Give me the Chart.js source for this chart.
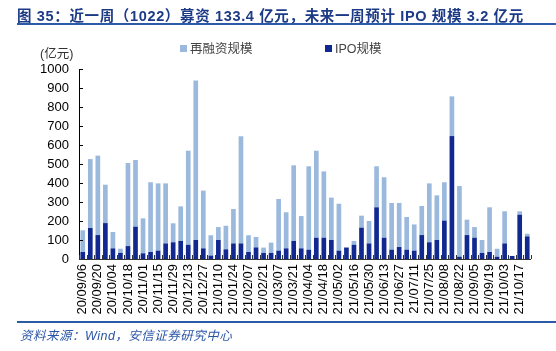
<!DOCTYPE html>
<html><head><meta charset="utf-8">
<script src="https://cdn.jsdelivr.net/npm/chart.js@4/dist/chart.umd.min.js"></script>
<style>
html,body{margin:0;padding:0;background:#fff;width:556px;height:351px;overflow:hidden;font-family:"Liberation Sans","Noto Sans CJK SC",sans-serif;}
#title{position:absolute;left:17px;top:4px;font-size:14.5px;font-weight:bold;color:#1d3a86;white-space:nowrap;letter-spacing:0.65px;}
#tline{position:absolute;left:17px;top:23px;width:539px;height:2px;background:#2a5aa8;}
#unit{position:absolute;left:40px;top:43px;font-size:12.5px;color:#333;}
.leg{position:absolute;top:38px;font-size:12.5px;color:#444;white-space:nowrap;}
.sw{display:inline-block;width:7px;height:7px;margin-right:3px;vertical-align:1px;}
#bline{position:absolute;left:17px;top:321px;width:539px;height:2px;background:#2a5aa8;}
#src{position:absolute;left:20px;top:325px;font-size:12.5px;font-style:italic;color:#2a56a6;white-space:nowrap;letter-spacing:0.5px;}
#wrap{position:absolute;left:0;top:0;width:556px;height:351px;}
</style></head><body>
<div id="wrap"><canvas id="c" width="556" height="351"></canvas></div>
<div id="title">图 35：近一周（1022）募资 133.4 亿元，未来一周预计 IPO 规模 3.2 亿元</div>
<div id="tline"></div>
<div id="unit">(亿元)</div>
<div class="leg" style="left:180px"><span class="sw" style="background:#9bb8dd"></span>再融资规模</div>
<div class="leg" style="left:325px"><span class="sw" style="background:#10288f"></span>IPO规模</div>
<div id="bline"></div>
<div id="src">资料来源：Wind，安信证券研究中心</div>
<script>
const categories = ["20/09/06","20/09/13","20/09/20","20/09/27","20/10/04","20/10/11","20/10/18","20/10/25","20/11/01","20/11/08","20/11/15","20/11/22","20/11/29","20/12/06","20/12/13","20/12/20","20/12/27","21/01/03","21/01/10","21/01/17","21/01/24","21/01/31","21/02/07","21/02/14","21/02/21","21/02/28","21/03/07","21/03/14","21/03/21","21/03/28","21/04/04","21/04/11","21/04/18","21/04/25","21/05/02","21/05/09","21/05/16","21/05/23","21/05/30","21/06/06","21/06/13","21/06/20","21/06/27","21/07/04","21/07/11","21/07/18","21/07/25","21/08/01","21/08/08","21/08/15","21/08/22","21/08/29","21/09/05","21/09/12","21/09/19","21/09/26","21/10/03","21/10/10","21/10/17","21/10/24"];
const ipoValues = [37,163,126,189,56,32,68,170,30,37,44,82,88,95,75,100,56,18,100,51,82,82,37,61,32,32,44,56,95,56,49,112,112,100,44,60,75,165,82,272,112,49,63,49,44,126,88,100,202,647,12,126,112,32,37,12,82,16,233,119];
const refiValues = [114,363,418,202,86,22,437,351,184,367,354,316,100,182,495,839,304,107,68,124,181,564,88,55,28,54,272,190,398,170,439,458,349,223,247,2,20,63,118,216,318,246,232,172,138,153,310,235,202,209,372,81,56,68,235,42,169,0,18,14];
const yTicks = [0,100,200,300,400,500,600,700,800,900,1000];

const innerTicks = {
  id:'innerTicks',
  afterDraw(chart){
    const ctx = chart.ctx, a = chart.chartArea, y = chart.scales.y;
    ctx.save();
    ctx.strokeStyle = '#000'; ctx.lineWidth = 1;
    ctx.beginPath();
    ctx.moveTo(Math.round(a.left)+0.5, a.top); ctx.lineTo(Math.round(a.left)+0.5, a.bottom);
    yTicks.forEach(v=>{ const py = Math.round(y.getPixelForValue(v))+0.5; ctx.moveTo(a.left, py); ctx.lineTo(a.left+4, py); });
    ctx.stroke();
    ctx.strokeStyle = '#333';
    ctx.beginPath();
    ctx.moveTo(a.left, Math.round(a.bottom)+0.5); ctx.lineTo(a.right, Math.round(a.bottom)+0.5);
    const w = (a.right-a.left)/categories.length;
    for(let i=0;i<=categories.length;i++){ const px = Math.round(a.left+i*w)+0.5; ctx.moveTo(px, a.bottom); ctx.lineTo(px, a.bottom-4); }
    ctx.stroke();
    ctx.restore();
  }
};

new Chart(document.getElementById('c'), {
  type:'bar',
  data:{ labels:categories, datasets:[
    {label:'IPO规模', data:ipoValues, backgroundColor:'#10288f', barPercentage:0.62, categoryPercentage:1},
    {label:'再融资规模', data:refiValues, backgroundColor:'#9bb8dd', barPercentage:0.62, categoryPercentage:1}
  ]},
  options:{
    responsive:false, animation:false,
    layout:{padding:{left:0,right:25,top:69,bottom:0}},
    plugins:{legend:{display:false}, tooltip:{enabled:false}},
    scales:{
      x:{stacked:true, grid:{display:false, drawTicks:false}, border:{display:false},
         afterFit(s){ s.height = 92; },
         ticks:{autoSkip:false, minRotation:90, maxRotation:90, padding:5, color:'#000',
           font:{family:'"Liberation Sans", Arial, sans-serif', size:13},
           callback(v,i){ return i%2===0 ? categories[i] : ''; }}},
      y:{stacked:true, min:0, max:1000, grid:{display:false, drawTicks:false}, border:{display:false},
         afterFit(s){ s.width = 79; },
         afterBuildTicks(s){ s.ticks = yTicks.map(v=>({value:v})); },
         ticks:{padding:10, color:'#000', font:{family:'"Liberation Sans", Arial, sans-serif', size:13},
           callback(v){ return String(v); }}}
    }
  },
  plugins:[innerTicks]
});
</script>
</body></html>
